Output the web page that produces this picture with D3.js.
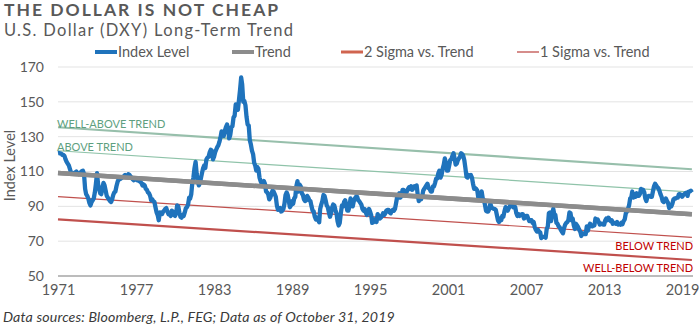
<!DOCTYPE html>
<html>
<head>
<meta charset="utf-8">
<script src="https://cdn.jsdelivr.net/npm/d3@7"></script>
<style>
  body { margin: 0; background: #fff; }
  svg { display: block; }
</style>
</head>
<body>
<div id="chart"></div>
<script>
// DXY monthly levels, Jan 1971 - Oct 2019
const startYear = 1971;
const dxy = [
  120.5,120.6,120.4,120.3,119.6,119.5,119.0,117.0,115.5,114.5,113.5,111.5, // 1971
  109.5,109.0,108.7,109.2,109.5,110.0,108.8,108.5,109.0,109.6,110.2,110.5, // 1972
  108.5,100.0,97.0,96.0,94.5,92.0,90.5,92.5,93.5,94.5,98.0,103.0,
  109.0,102.5,100.0,97.5,97.0,100.5,103.5,102.0,99.0,96.0,95.0,94.0,
  93.0,92.5,94.0,96.5,98.0,98.5,101.5,104.0,105.5,105.5,106.0,106.5,
  107.0,107.5,108.0,107.5,107.0,108.5,108.0,107.0,106.5,105.5,105.0,105.5,
  105.5,105.0,104.8,104.5,104.0,103.5,102.0,102.5,102.0,100.0,99.5,98.0,
  97.5,96.0,93.5,94.0,93.0,92.5,89.5,86.5,85.0,82.0,86.5,85.5,
  85.5,87.0,87.5,88.5,89.0,87.0,85.5,86.0,84.5,87.5,87.0,85.0,
  84.5,86.0,90.5,90.0,86.5,84.0,83.5,85.0,84.5,86.5,89.0,89.5, // 1980
  91.0,95.0,94.5,97.0,103.5,106.5,112.0,115.5,108.5,104.5,102.0,103.5,
  106.5,109.5,112.0,113.5,112.0,117.0,118.0,118.5,121.0,122.5,122.0,117.0,
  118.5,121.0,122.5,124.0,125.0,127.0,129.5,133.0,131.0,130.5,133.5,135.5,
  137.0,134.0,129.0,131.0,135.5,136.0,141.0,142.0,148.5,147.0,145.5,151.0,
  157.0,164.0,160.0,150.0,150.5,148.0,141.5,137.0,136.5,128.0,125.5,122.0,
  120.0,115.0,113.5,110.5,112.5,111.5,106.5,104.5,103.0,103.5,104.5,103.0,
  98.5,98.0,97.0,94.0,95.0,97.0,99.0,98.5,97.0,95.5,90.5,88.0,
  88.5,89.0,87.0,87.5,88.5,91.5,96.5,98.0,96.5,93.0,89.5,90.5,
  93.0,91.5,94.5,95.5,101.5,104.5,98.5,102.5,101.5,97.5,96.5,94.0,
  93.0,93.5,96.0,95.0,93.5,93.0,90.0,87.5,87.0,84.0,82.5,83.5, // 1990
  82.5,80.8,88.5,91.0,93.0,96.5,96.0,93.5,90.5,89.5,86.5,84.0,
  86.0,89.5,91.0,90.5,88.0,86.0,81.5,79.0,80.5,86.0,90.5,90.0,
  92.5,93.5,91.0,87.5,87.5,90.0,94.5,92.0,90.0,93.0,94.5,95.5,
  95.5,93.5,93.0,92.0,91.0,88.5,87.5,88.5,86.5,85.0,87.0,88.5,
  87.0,85.0,80.5,80.8,82.5,81.5,81.0,85.5,84.5,83.0,83.5,84.5,
  86.0,85.0,86.0,87.5,88.0,88.0,86.5,86.0,87.5,88.0,87.5,88.5,
  92.0,95.5,95.0,97.5,95.0,96.0,99.5,99.5,97.5,98.0,98.5,100.0,
  101.0,100.0,101.5,99.5,100.5,101.5,101.0,102.0,96.5,93.0,95.5,94.0,
  95.5,99.0,100.0,101.0,102.0,103.0,100.5,100.0,98.5,98.5,101.5,101.5,
  103.5,106.0,106.0,109.0,110.5,106.5,108.0,111.5,114.0,117.5,115.0,110.5, // 2000
  110.5,113.5,116.5,117.0,119.0,120.5,117.5,114.0,114.5,116.5,117.5,118.5,
  120.5,120.0,119.0,116.5,112.0,107.0,106.5,108.0,107.5,108.0,106.5,103.0,
  100.0,100.5,100.0,99.0,94.5,95.5,97.0,98.5,94.5,93.5,91.0,87.5,
  87.0,87.0,88.5,91.5,89.5,89.0,88.5,88.5,88.0,85.0,82.0,81.0,
  83.0,82.0,84.5,84.0,87.0,89.5,88.5,87.5,89.0,90.0,91.5,91.0,
  89.5,90.5,89.5,86.0,84.5,85.5,84.5,85.0,85.5,85.5,83.0,83.5,
  84.5,84.5,83.0,81.5,82.0,82.0,80.5,81.0,78.0,76.5,75.5,76.5,
  75.5,75.0,71.8,72.5,72.5,72.5,72.0,77.0,78.5,86.0,86.5,81.5,
  85.5,88.5,85.5,85.0,80.5,80.0,78.5,78.0,76.5,75.5,74.5,77.5,
  79.5,80.5,81.0,82.0,86.5,86.0,82.0,83.0,79.0,77.0,80.0,79.0, // 2010
  78.0,76.5,75.5,73.0,74.5,74.5,74.0,74.0,78.5,76.0,78.5,80.0,
  79.0,78.5,79.0,79.0,83.0,81.5,82.5,81.0,79.5,80.0,80.0,79.5,
  79.5,82.0,83.0,82.0,83.5,82.5,81.5,82.0,80.0,80.5,80.5,80.0,
  81.0,79.5,80.0,79.5,80.5,79.8,81.5,82.5,86.0,87.0,88.5,90.5,
  94.5,95.0,98.5,95.0,97.0,95.5,97.5,96.0,96.0,97.0,100.0,98.5,
  99.5,98.0,94.5,93.0,95.5,96.0,96.0,95.5,95.5,98.5,101.5,103.0,
  102.0,101.0,100.5,99.0,97.0,95.5,93.0,92.5,93.0,94.5,93.0,92.0,
  89.0,90.5,90.0,91.5,94.0,94.5,94.5,95.0,95.0,97.0,97.0,96.5,
  95.5,96.5,97.0,97.5,97.8,96.0,98.5,98.5,99.0,98.0 // 2019
];

// trend and sigma bands: level at start (Jan 1971) and end (Oct 2019)
const bandNames = ["2 Sigma Above", "1 Sigma Above", "Trend", "1 Sigma Below", "2 Sigma Below"];
const bandStart = [135.4, 121.9, 109.1, 95.6, 82.5];
const bandEnd = [111.3, 98.2, 85.5, 72.2, 59.2];
const bandColor = ["#97bfab", "#8fc3a9", "#8c8c8c", "#c0504d", "#c0504d"];
const bandWidth = [2.2, 1.2, 4.5, 1.2, 2.2];

const yTicks = [50, 70, 90, 110, 130, 150, 170];
const xTickYears = [1971, 1977, 1983, 1989, 1995, 2001, 2007, 2013, 2019];

const legendItems = [
  { name: "Index Level", color: "#1f73bc", w: 4, x: 95 },
  { name: "Trend", color: "#8c8c8c", w: 4, x: 232 },
  { name: "2 Sigma vs. Trend", color: "#d0644f", w: 3, x: 341 },
  { name: "1 Sigma vs. Trend", color: "#c0504d", w: 1.3, x: 517 }
];

const width = 700, height = 329;
const margin = { top: 67, right: 7, bottom: 53, left: 58 };
const font = "Lato, 'Open Sans', sans-serif";
const textGray = "#595959";

const svg = d3.select("#chart").append("svg")
  .attr("width", width)
  .attr("height", height)
  .style("font-family", font);

const points = dxy.map((v, i) => ({ date: new Date(startYear, i, 1), value: v }));
const lastDate = points[points.length - 1].date;

const x = d3.scaleTime()
  .domain([new Date(startYear, 0, 1), new Date(2019, 10, 1)])
  .range([margin.left, width - margin.right]);
const y = d3.scaleLinear()
  .domain([50, 170])
  .range([height - margin.bottom, margin.top]);

// title + subtitle
svg.append("text")
  .attr("x", 4).attr("y", 16)
  .attr("fill", textGray)
  .attr("font-size", 17.5).attr("font-weight", 700)
  .attr("letter-spacing", 2)
  .text("THE DOLLAR IS NOT CHEAP");
svg.append("text")
  .attr("x", 4).attr("y", 36)
  .attr("fill", textGray)
  .attr("font-size", 16.5)
  .attr("letter-spacing", 1.3)
  .text("U.S. Dollar (DXY) Long-Term Trend");

// legend
const legend = svg.append("g").selectAll("g").data(legendItems).join("g")
  .attr("transform", (d) => `translate(${d.x},52)`);
legend.append("line")
  .attr("x1", 0).attr("x2", 22)
  .attr("stroke", (d) => d.color)
  .attr("stroke-width", (d) => d.w);
legend.append("text")
  .attr("x", 23).attr("dy", "0.35em")
  .attr("fill", textGray)
  .attr("font-size", 14.5)
  .text((d) => d.name);

// grid
svg.append("g")
  .selectAll("line")
  .data(yTicks)
  .join("line")
  .attr("x1", margin.left).attr("x2", width - margin.right)
  .attr("y1", (d) => y(d)).attr("y2", (d) => y(d))
  .attr("stroke", (d) => (d === 50 ? "#a6a6a6" : "#e3e3e3"))
  .attr("stroke-width", (d) => (d === 50 ? 1.3 : 1));

// y axis labels
const yAxis = svg.append("g")
  .attr("transform", `translate(${margin.left},0)`)
  .call(d3.axisLeft(y).tickValues(yTicks).tickSize(0).tickPadding(14));
yAxis.select(".domain").remove();
yAxis.selectAll("text")
  .attr("fill", textGray)
  .style("font-family", font)
  .attr("font-size", 14);

// x axis labels
const xAxis = svg.append("g")
  .attr("transform", `translate(0,${height - margin.bottom})`)
  .call(d3.axisBottom(x)
    .tickValues(xTickYears.map((yr) => new Date(yr, 0, 1)))
    .tickFormat(d3.timeFormat("%Y"))
    .tickSize(0).tickPadding(9));
xAxis.select(".domain").remove();
xAxis.selectAll("text")
  .attr("fill", textGray)
  .style("font-family", font)
  .attr("font-size", 14.5);

// y title
svg.append("text")
  .attr("transform", `translate(15,${(y(50) + y(170)) / 2 - 6}) rotate(-90)`)
  .attr("text-anchor", "middle")
  .attr("fill", textGray)
  .attr("font-size", 14.5)
  .text("Index Level");

// bands
const bands = bandNames.map((name, i) => ({
  name,
  pts: [
    { date: points[0].date, value: bandStart[i] },
    { date: lastDate, value: bandEnd[i] }
  ],
  color: bandColor[i],
  w: bandWidth[i]
}));

const line = d3.line()
  .x((d) => x(d.date))
  .y((d) => y(d.value));

svg.append("g")
  .selectAll("path")
  .data(bands)
  .join("path")
  .attr("d", (d) => line(d.pts))
  .attr("fill", "none")
  .attr("stroke", (d) => d.color)
  .attr("stroke-width", (d) => d.w);

svg.append("path")
  .datum(points)
  .attr("d", line)
  .attr("fill", "none")
  .attr("stroke", "#1f73bc")
  .attr("stroke-width", 4.3)
  .attr("stroke-linejoin", "round");

// trend sits on top of the blue line like the original
svg.append("path")
  .datum(bands[2].pts)
  .attr("d", line)
  .attr("fill", "none")
  .attr("stroke", "#8c8c8c")
  .attr("stroke-width", 4.5);

// zone labels
const green = "#5e9f80";
const red = "#c00000";
const zoneSize = 11;
svg.append("text")
  .attr("x", 57).attr("y", 128)
  .attr("fill", green).attr("font-size", zoneSize)
  .text("WELL-ABOVE TREND");
svg.append("text")
  .attr("x", 57).attr("y", 150.5)
  .attr("fill", green).attr("font-size", zoneSize)
  .text("ABOVE TREND");
svg.append("text")
  .attr("x", 693).attr("y", 249.5)
  .attr("text-anchor", "end")
  .attr("fill", red).attr("font-size", zoneSize)
  .text("BELOW TREND");
svg.append("text")
  .attr("x", 693).attr("y", 271.5)
  .attr("text-anchor", "end")
  .attr("fill", red).attr("font-size", zoneSize)
  .text("WELL-BELOW TREND");

// footer
svg.append("text")
  .attr("x", 3).attr("y", 322)
  .attr("fill", "#3a3a3a")
  .attr("font-size", 14.2)
  .attr("font-style", "italic")
  .attr("letter-spacing", 0.15)
  .text("Data sources: Bloomberg, L.P., FEG; Data as of October 31, 2019");
</script>
</body>
</html>
